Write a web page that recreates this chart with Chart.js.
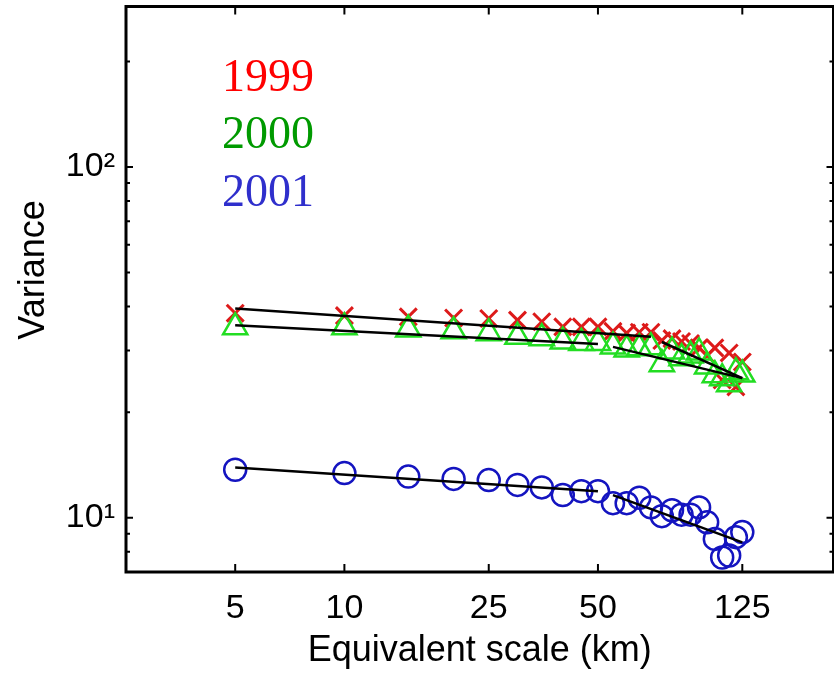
<!DOCTYPE html>
<html>
<head>
<meta charset="utf-8">
<script src="https://cdn.jsdelivr.net/npm/chart.js@4.4.1/dist/chart.umd.min.js"></script>
<style>
  html, body { margin: 0; padding: 0; background: #fff; overflow: hidden; width: 834px; height: 673px; }
  canvas { display: block; margin-top: -10px; }
</style>
</head>
<body>
<canvas id="c" width="850" height="683"></canvas>
<script>
// ---- data ----
const scaleKm = [5, 10, 15, 20, 25, 30, 35, 40, 45, 50, 55, 60, 65, 70, 75, 80, 85, 90, 95, 100, 105, 110, 115, 120, 125];
const var1999 = [38.3, 37.7, 37.4, 37.1, 37.0, 36.6, 36.2, 35.0, 35.0, 35.0, 34.0, 33.6, 33.8, 33.8, 32.0, 32.4, 31.8, 31.4, 30.5, 29.0, 30.5, 24.7, 29.5, 23.6, 27.8];
const var2000 = [34.9, 34.9, 34.4, 34.0, 33.6, 32.8, 32.5, 31.8, 31.5, 31.5, 30.8, 30.2, 30.4, 30.6, 27.4, 29.8, 28.5, 29.0, 29.6, 27.0, 25.5, 25.0, 24.0, 26.0, 25.6];
const var2001 = [13.7, 13.4, 13.1, 12.9, 12.8, 12.4, 12.2, 11.6, 11.9, 11.9, 11.0, 11.0, 11.4, 10.7, 10.1, 10.5, 10.2, 10.2, 10.7, 9.7, 8.7, 7.7, 7.8, 8.8, 9.1];

// piecewise fits: [x start, x end] and [value start, value end]
const fit1999a_x = [5, 70],  fit1999a_y = [39.5, 32.8];
const fit1999b_x = [75, 125], fit1999b_y = [31.7, 25.0];
const fit2000a_x = [5, 50],  fit2000a_y = [35.4, 31.3];
const fit2000b_x = [55, 125], fit2000b_y = [30.7, 25.0];
const fit2001a_x = [5, 50],  fit2001a_y = [13.9, 11.9];
const fit2001b_x = [55, 125], fit2001b_y = [11.6, 8.5];

const xTickValues = [5, 10, 25, 50, 125];
const yTickValues = [10, 100];
const yTickLabels = ['10\u00B9', '10\u00B2'];
const yMinorTicks = [8, 9, 20, 30, 40, 50, 60, 70, 80, 90, 200];
const yearLabels = ['1999', '2000', '2001'];
const yTitle = 'Variance';
const xTitle = 'Equivalent scale (km)';

// ---- build ----
const SHIFT = 10; // canvas is moved up by this many pixels
const pts = (xs, ys) => xs.map((x, i) => ({ x: x, y: ys[i] }));

const markerSet = (label, ys, style, color, radius, width, order) => ({
  label: label, data: pts(scaleKm, ys), showLine: false,
  pointStyle: style, pointRadius: radius, pointHoverRadius: radius,
  pointBorderColor: color, pointBackgroundColor: 'rgba(0,0,0,0)',
  pointBorderWidth: width, order: order
});
const fitSet = (xs, ys) => ({
  label: 'fit', data: pts(xs, ys), showLine: true, borderColor: '#000',
  borderWidth: 2.5, pointRadius: 0, fill: false, order: 0
});

const frameTicks = {
  id: 'frameTicks',
  afterDatasetsDraw(chart) {
    const ctx = chart.ctx, a = chart.chartArea;
    const xs = chart.scales.x, ys = chart.scales.y;
    ctx.save();
    ctx.strokeStyle = '#000';
    ctx.lineWidth = 2;
    ctx.beginPath();
    xTickValues.forEach(v => {
      const px = xs.getPixelForValue(v);
      ctx.moveTo(px, a.bottom); ctx.lineTo(px, a.bottom - 8);
      ctx.moveTo(px, a.top); ctx.lineTo(px, a.top + 8);
    });
    yTickValues.forEach(v => {
      const py = ys.getPixelForValue(v);
      ctx.moveTo(a.left, py); ctx.lineTo(a.left + 7, py);
      ctx.moveTo(a.right, py); ctx.lineTo(a.right - 7, py);
    });
    yMinorTicks.forEach(v => {
      const py = ys.getPixelForValue(v);
      ctx.moveTo(a.left, py); ctx.lineTo(a.left + 4, py);
      ctx.moveTo(a.right, py); ctx.lineTo(a.right - 4, py);
    });
    ctx.stroke();
    ctx.lineWidth = 3;
    ctx.strokeRect(a.left, a.top, a.right - a.left, a.bottom - a.top);
    // year labels
    ctx.font = '46px "Liberation Serif", "Times New Roman", serif';
    ctx.textBaseline = 'alphabetic';
    ctx.textAlign = 'left';
    const cols = ['#ff0000', '#009a00', '#2f2fcc'];
    const base = [91, 148, 206];
    yearLabels.forEach((t, i) => { ctx.fillStyle = cols[i]; ctx.fillText(t, 222, base[i] + SHIFT); });
    // y-axis title
    ctx.translate(44, 270 + SHIFT);
    ctx.rotate(-Math.PI / 2);
    ctx.font = '36px "Liberation Sans", Arial, sans-serif';
    ctx.textAlign = 'center';
    ctx.fillStyle = '#000';
    ctx.fillText(yTitle, 0, 0);
    ctx.restore();
  }
};

new Chart(document.getElementById('c'), {
  type: 'scatter',
  data: {
    datasets: [
      fitSet(fit1999a_x, fit1999a_y), fitSet(fit1999b_x, fit1999b_y),
      fitSet(fit2000a_x, fit2000a_y), fitSet(fit2000b_x, fit2000b_y),
      fitSet(fit2001a_x, fit2001a_y), fitSet(fit2001b_x, fit2001b_y),
      markerSet('1999', var1999, 'crossRot', '#dd1a1a', 12, 3, 3),
      markerSet('2000', var2000, 'triangle', '#22dd22', 14, 2.5, 2),
      markerSet('2001', var2001, 'circle', '#1414c0', 11, 2.5, 1)
    ]
  },
  options: {
    responsive: false, animation: false, devicePixelRatio: 1,
    layout: { padding: { top: 6, right: 14, left: 0, bottom: 0 } },
    plugins: { legend: { display: false }, tooltip: { enabled: false } },
    scales: {
      x: {
        type: 'logarithmic', min: 2.5, max: 223,
        grid: { display: false, drawTicks: false }, border: { display: false },
        afterBuildTicks: s => { s.ticks = xTickValues.map(v => ({ value: v })); },
        afterFit: s => { s.height = 101; s.paddingLeft = 0; s.paddingRight = 0; },
        ticks: { autoSkip: false, maxRotation: 0, padding: 16, color: '#000',
          font: { family: '"Liberation Sans", Arial, sans-serif', size: 34 },
          callback: v => String(v) },
        title: { display: true, text: xTitle, color: '#000', padding: 0,
          font: { family: '"Liberation Sans", Arial, sans-serif', size: 36 } }
      },
      y: {
        type: 'logarithmic', min: 7.0, max: 287,
        grid: { display: false, drawTicks: false }, border: { display: false },
        afterBuildTicks: s => { s.ticks = yTickValues.map(v => ({ value: v })); },
        afterFit: s => { s.width = 126; s.paddingTop = 0; s.paddingBottom = 0; },
        ticks: { autoSkip: false, padding: 11, color: '#000',
          font: { family: '"Liberation Sans", Arial, sans-serif', size: 34 },
          callback: v => yTickLabels[yTickValues.indexOf(v)] },
        title: { display: false }
      }
    }
  },
  plugins: [frameTicks]
});
</script>
</body>
</html>
